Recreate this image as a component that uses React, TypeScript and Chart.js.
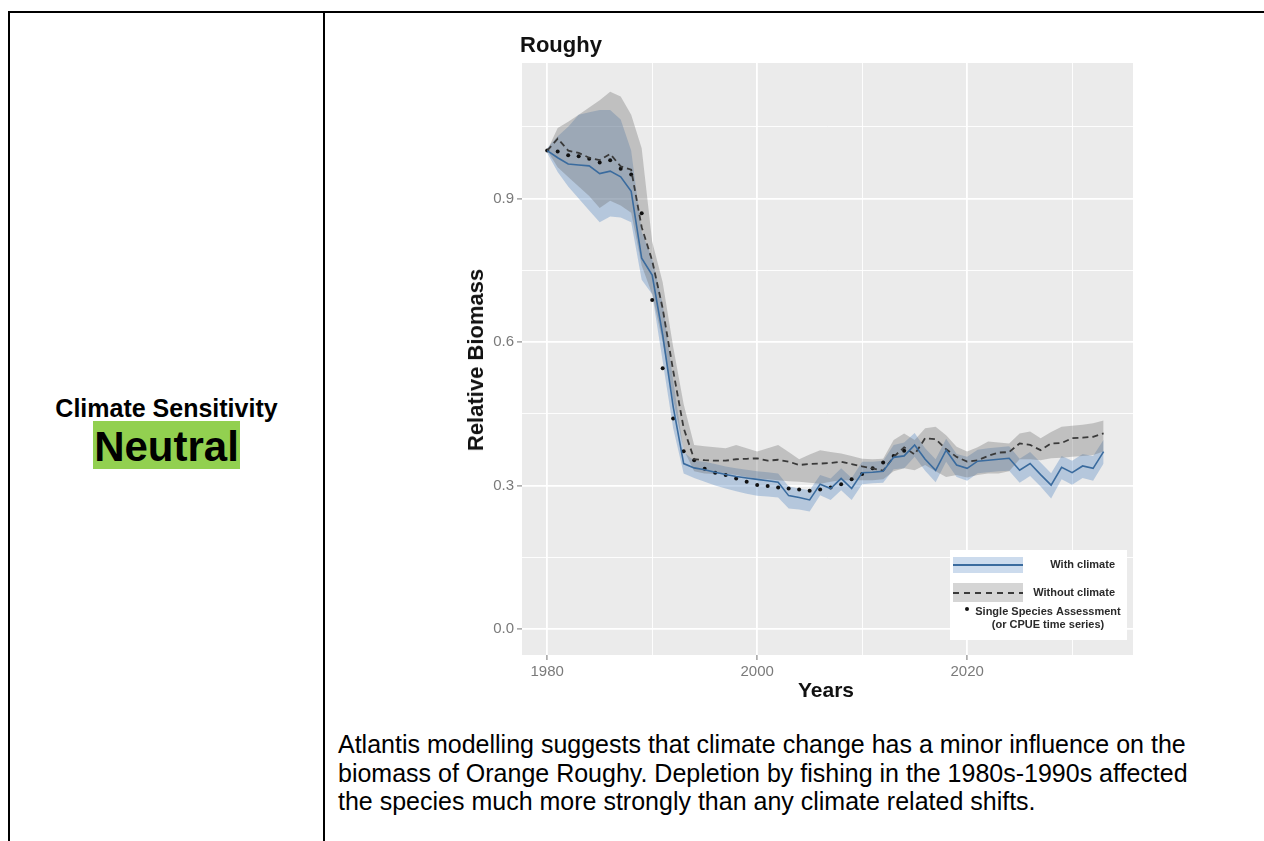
import React, { useEffect, useRef } from 'react';
import { Chart, registerables } from 'chart.js';

Chart.register(...registerables);

// ---------- data ----------
const years = [
  1980, 1981, 1982, 1983, 1984, 1985, 1986, 1987, 1988, 1989,
  1990, 1991, 1992, 1993, 1994, 1995, 1996, 1997, 1998, 1999,
  2000, 2001, 2002, 2003, 2004, 2005, 2006, 2007, 2008, 2009,
  2010, 2011, 2012, 2013, 2014, 2015, 2016, 2017, 2018, 2019,
  2020, 2021, 2022, 2023, 2024, 2025, 2026, 2027, 2028, 2029,
  2030, 2031, 2032, 2033,
];

const withClimate = [
  1.0, 0.985, 0.972, 0.97, 0.968, 0.952, 0.957, 0.945, 0.915, 0.775,
  0.74, 0.615, 0.465, 0.346, 0.337, 0.333, 0.328, 0.323, 0.319, 0.316,
  0.313, 0.31, 0.307, 0.279, 0.275, 0.27, 0.303, 0.294, 0.315, 0.294,
  0.327, 0.328, 0.33, 0.359, 0.362, 0.385, 0.355, 0.332, 0.374, 0.343,
  0.336, 0.351, 0.353, 0.355, 0.357, 0.332, 0.346, 0.323, 0.301, 0.338,
  0.327, 0.341, 0.336, 0.371,
];
const withClimateHi = [
  1.005, 1.03, 1.05, 1.075, 1.08, 1.085, 1.085, 1.065, 1.0, 0.83,
  0.775, 0.68, 0.52, 0.37, 0.352, 0.35, 0.345, 0.34, 0.336, 0.333,
  0.33, 0.328, 0.325, 0.298, 0.294, 0.29, 0.322, 0.315, 0.336, 0.316,
  0.35, 0.35, 0.352, 0.385, 0.39, 0.41, 0.378, 0.355, 0.398, 0.366,
  0.36, 0.375, 0.378, 0.38, 0.382, 0.356, 0.37, 0.348, 0.326, 0.362,
  0.352, 0.366, 0.362, 0.396,
];
const withClimateLo = [
  0.995, 0.955, 0.925, 0.9, 0.875, 0.85, 0.862, 0.86, 0.85, 0.73,
  0.7, 0.56, 0.42, 0.325, 0.316, 0.308, 0.3, 0.294, 0.288, 0.283,
  0.279, 0.277, 0.275, 0.252, 0.25, 0.246, 0.28, 0.27, 0.29, 0.27,
  0.303, 0.305, 0.306, 0.334, 0.336, 0.36, 0.331, 0.307, 0.35, 0.318,
  0.31, 0.326, 0.328, 0.33, 0.331, 0.306, 0.32, 0.298, 0.273, 0.313,
  0.302, 0.316, 0.31, 0.346,
];

const withoutClimate = [
  1.0, 1.025, 1.0, 0.995, 0.985, 0.98, 0.993, 0.967, 0.96, 0.84,
  0.77, 0.67, 0.54, 0.42, 0.355, 0.353, 0.352, 0.352, 0.355, 0.356,
  0.357, 0.352, 0.354, 0.35, 0.343, 0.345, 0.346, 0.347, 0.35, 0.345,
  0.34, 0.336, 0.331, 0.36, 0.38, 0.365, 0.399, 0.397, 0.376, 0.36,
  0.35, 0.353, 0.362, 0.369, 0.37, 0.388, 0.385, 0.374, 0.388, 0.389,
  0.399, 0.4, 0.402, 0.409,
];
const withoutClimateHi = [
  1.0, 1.047, 1.06, 1.075, 1.09, 1.105, 1.123, 1.113, 1.075, 1.005,
  0.81, 0.725, 0.59, 0.47, 0.385, 0.382, 0.38, 0.378, 0.385, 0.378,
  0.371, 0.378, 0.385, 0.37, 0.355, 0.365, 0.374, 0.37, 0.367, 0.362,
  0.356, 0.355, 0.356, 0.395, 0.409, 0.395, 0.42, 0.423, 0.405, 0.381,
  0.371, 0.38, 0.392, 0.39, 0.388, 0.409, 0.413, 0.399, 0.412, 0.423,
  0.425, 0.427, 0.43, 0.436,
];
const withoutClimateLo = [
  1.0, 0.965, 0.945, 0.925, 0.905, 0.88, 0.895, 0.885, 0.87, 0.76,
  0.7, 0.6, 0.48, 0.375, 0.33, 0.325, 0.324, 0.325, 0.322, 0.318,
  0.315, 0.313, 0.311, 0.309, 0.308, 0.306, 0.304, 0.308, 0.311, 0.311,
  0.311, 0.311, 0.313, 0.33, 0.336, 0.332, 0.343, 0.33, 0.318, 0.322,
  0.317, 0.322, 0.325, 0.325, 0.33, 0.355, 0.355, 0.353, 0.357, 0.358,
  0.36, 0.362, 0.364, 0.371,
];

const ssaYears = [
  1980, 1981, 1982, 1983, 1984, 1985, 1986, 1987, 1988, 1989,
  1990, 1991, 1992, 1993, 1994, 1995, 1996, 1997, 1998, 1999,
  2000, 2001, 2002, 2003, 2004, 2005, 2006, 2007, 2008, 2009,
  2010, 2011, 2012, 2013, 2014,
];
const ssaValues = [
  1.0, 0.998, 0.99, 0.988, 0.983, 0.975, 0.98, 0.962, 0.95, 0.869,
  0.688, 0.545, 0.44, 0.372, 0.353, 0.335, 0.327, 0.322, 0.315, 0.308,
  0.301, 0.299, 0.296, 0.294, 0.292, 0.289, 0.292, 0.296, 0.303, 0.313,
  0.324, 0.336, 0.348, 0.362, 0.373,
];

const yMajorTicks = [0, 0.3, 0.6, 0.9];
const yMinorTicks = [0.15, 0.45, 0.75, 1.05];
const xMajorTicks = [1980, 2000, 2020];
const xMinorTicks = [1990, 2010, 2030];

const legendLabels = ['With climate', 'Without climate', 'Single Species Assessment', '(or CPUE time series)'];

const descriptionLines = [
  'Atlantis modelling suggests that climate change has a minor influence on the',
  'biomass of Orange Roughy. Depletion by fishing in the 1980s-1990s affected',
  'the species much more strongly than any climate related shifts.',
];

// ---------- styles ----------
const BLUE = '#3a6b9e';
const BLUE_FILL = 'rgba(85,135,195,0.36)';
const GREY_FILL = 'rgba(105,105,105,0.33)';
const BLUE_KEY = 'rgba(85,135,195,0.30)';
const GREY_KEY = 'rgba(105,105,105,0.28)';
const DASH = '#3a3a3a';
const FONT = '"Liberation Sans", Arial, Helvetica, sans-serif';

const pts = (xs: number[], ys: number[]) => xs.map((x, i) => ({ x, y: ys[i] }));
const isIn = (arr: number[], v: number) => arr.some((a) => Math.abs(a - v) < 1e-6);

const panelPlugin = {
  id: 'panelBg',
  beforeDraw(chart: any) {
    const { ctx, chartArea: a } = chart;
    ctx.save();
    ctx.fillStyle = '#ebebeb';
    ctx.fillRect(a.left, a.top, a.right - a.left, a.bottom - a.top);
    ctx.restore();
  },
};

const legendPlugin = {
  id: 'insetLegend',
  afterDraw(chart: any) {
    const { ctx, chartArea: a } = chart;
    const bx = a.right - 183;
    const by = a.bottom - 105;
    ctx.save();
    ctx.fillStyle = '#ffffff';
    ctx.fillRect(bx, by, 177, 90);
    // key 1
    ctx.fillStyle = BLUE_KEY;
    ctx.fillRect(bx + 3, by + 7, 70, 16);
    ctx.strokeStyle = BLUE;
    ctx.lineWidth = 2;
    ctx.beginPath();
    ctx.moveTo(bx + 3, by + 15);
    ctx.lineTo(bx + 73, by + 15);
    ctx.stroke();
    // key 2
    ctx.fillStyle = GREY_KEY;
    ctx.fillRect(bx + 3, by + 33, 70, 19);
    ctx.strokeStyle = DASH;
    ctx.setLineDash([6, 5]);
    ctx.beginPath();
    ctx.moveTo(bx + 3, by + 43);
    ctx.lineTo(bx + 73, by + 43);
    ctx.stroke();
    ctx.setLineDash([]);
    // key 3 dot
    ctx.fillStyle = '#111';
    ctx.beginPath();
    ctx.arc(bx + 17, by + 59, 2, 0, Math.PI * 2);
    ctx.fill();
    // text
    ctx.fillStyle = '#2a2a2a';
    ctx.font = `bold 11px ${FONT}`;
    ctx.textBaseline = 'middle';
    ctx.textAlign = 'right';
    ctx.fillText(legendLabels[0], bx + 165, by + 15);
    ctx.fillText(legendLabels[1], bx + 165, by + 43);
    ctx.textAlign = 'center';
    ctx.fillText(legendLabels[2], bx + 98, by + 62);
    ctx.fillText(legendLabels[3], bx + 98, by + 75);
    ctx.restore();
  },
};

function RoughyChart() {
  const ref = useRef<HTMLCanvasElement>(null);
  useEffect(() => {
    if (!ref.current) return;
    const chart = new Chart(ref.current, {
      type: 'line',
      data: {
        datasets: [
          { label: 'With climate', data: pts(years, withClimate), borderColor: BLUE, borderWidth: 1.6, pointRadius: 0, fill: false, order: 0 } as any,
          { label: 'Without climate', data: pts(years, withoutClimate), borderColor: DASH, borderDash: [6, 4], borderWidth: 1.8, pointRadius: 0, fill: false, order: 0 } as any,
          { label: 'SSA', data: pts(ssaYears, ssaValues), showLine: false, pointRadius: 2, pointBackgroundColor: '#111', pointBorderWidth: 0, borderColor: '#111', order: 0 } as any,
          { label: 'withHi', data: pts(years, withClimateHi), borderColor: 'transparent', borderWidth: 0, pointRadius: 0, fill: false, order: 2 } as any,
          { label: 'withLo', data: pts(years, withClimateLo), borderColor: 'transparent', borderWidth: 0, pointRadius: 0, fill: 3, backgroundColor: BLUE_FILL, order: 2 } as any,
          { label: 'withoutHi', data: pts(years, withoutClimateHi), borderColor: 'transparent', borderWidth: 0, pointRadius: 0, fill: false, order: 1 } as any,
          { label: 'withoutLo', data: pts(years, withoutClimateLo), borderColor: 'transparent', borderWidth: 0, pointRadius: 0, fill: 5, backgroundColor: GREY_FILL, order: 1 } as any,
        ],
      },
      options: {
        animation: false,
        responsive: false,
        events: [],
        layout: { padding: { top: 23, right: 17, left: 0, bottom: 0 } },
        plugins: { legend: { display: false }, tooltip: { enabled: false }, title: { display: false } },
        scales: {
          x: {
            type: 'linear',
            min: 1977.6,
            max: 2035.8,
            afterFit: (s: any) => { s.height = 45; },
            afterBuildTicks: (s: any) => {
              s.ticks = [...xMajorTicks, ...xMinorTicks].sort((a, b) => a - b).map((v) => ({ value: v }));
            },
            border: { display: false },
            grid: {
              color: '#ffffff',
              lineWidth: (c: any) => (isIn(xMajorTicks, c.tick?.value) ? 1.8 : 0.9),
              tickColor: (c: any) => (isIn(xMajorTicks, c.tick?.value) ? '#8a8a8a' : 'rgba(0,0,0,0)'),
              tickWidth: 1.2,
              tickLength: 5,
            },
            ticks: {
              autoSkip: false,
              maxRotation: 0,
              padding: 3,
              color: '#7a7a7a',
              font: { family: FONT, size: 15 },
              callback: (v: any) => (isIn(xMajorTicks, Number(v)) ? String(v) : ''),
            },
          },
          y: {
            type: 'linear',
            min: -0.054,
            max: 1.183,
            afterFit: (s: any) => { s.width = 92; },
            afterBuildTicks: (s: any) => {
              s.ticks = [...yMajorTicks, ...yMinorTicks].sort((a, b) => a - b).map((v) => ({ value: v }));
            },
            border: { display: false },
            grid: {
              color: '#ffffff',
              lineWidth: (c: any) => (isIn(yMajorTicks, c.tick?.value) ? 1.8 : 0.9),
              tickColor: (c: any) => (isIn(yMajorTicks, c.tick?.value) ? '#8a8a8a' : 'rgba(0,0,0,0)'),
              tickWidth: 1.2,
              tickLength: 5,
            },
            ticks: {
              autoSkip: false,
              padding: 3,
              color: '#7a7a7a',
              font: { family: FONT, size: 15 },
              callback: (v: any) => (isIn(yMajorTicks, Number(v)) ? Number(v).toFixed(1) : ''),
            },
          },
        },
      },
      plugins: [panelPlugin, legendPlugin],
    });
    return () => chart.destroy();
  }, []);
  return <canvas ref={ref} width={720} height={660} style={{ display: 'block' }} />;
}

export default function App() {
  const abs = (s: React.CSSProperties): React.CSSProperties => ({ position: 'absolute', ...s });
  return (
    <div style={abs({ left: 0, top: 0, width: 1264, height: 841, overflow: 'hidden', background: '#fff', fontFamily: FONT, color: '#000' })}>
      {/* table borders */}
      <div style={abs({ left: 8, top: 11, width: 1256, height: 2, background: '#000' })} />
      <div style={abs({ left: 8, top: 11, width: 2, height: 830, background: '#000' })} />
      <div style={abs({ left: 323, top: 11, width: 2, height: 830, background: '#000' })} />

      {/* left cell */}
      <div style={abs({ left: 10, top: 394, width: 313, textAlign: 'center', fontWeight: 'bold', fontSize: 25, lineHeight: '28.6px', whiteSpace: 'nowrap' })}>
        Climate Sensitivity
      </div>
      <div style={abs({ left: 93, top: 421, width: 147, height: 48, background: '#92d050' })} />
      <div style={abs({ left: 93, top: 423, width: 147, height: 48, lineHeight: '48px', textAlign: 'center', fontWeight: 'bold', fontSize: 42, whiteSpace: 'nowrap' })}>
        Neutral
      </div>

      {/* chart */}
      <div style={abs({ left: 430, top: 40, width: 720, height: 660 })}>
        <RoughyChart />
      </div>
      <div style={abs({ left: 520, top: 34, fontWeight: 'bold', fontSize: 22, lineHeight: '22px', color: '#111', whiteSpace: 'nowrap' })}>
        Roughy
      </div>
      <div style={abs({ left: 826, top: 679, transform: 'translateX(-50%)', fontWeight: 'bold', fontSize: 21, lineHeight: '21px', color: '#111', whiteSpace: 'nowrap' })}>
        Years
      </div>
      <div style={abs({ left: 476, top: 360, transform: 'translate(-50%, -50%) rotate(-90deg)', fontWeight: 'bold', fontSize: 22, lineHeight: '22px', color: '#111', whiteSpace: 'nowrap' })}>
        Relative Biomass
      </div>

      {/* description */}
      <div style={abs({ left: 338, top: 730, fontSize: 25, lineHeight: '28.6px', whiteSpace: 'nowrap' })}>
        {descriptionLines.map((l, i) => (
          <div key={i}>{l}</div>
        ))}
      </div>
    </div>
  );
}
